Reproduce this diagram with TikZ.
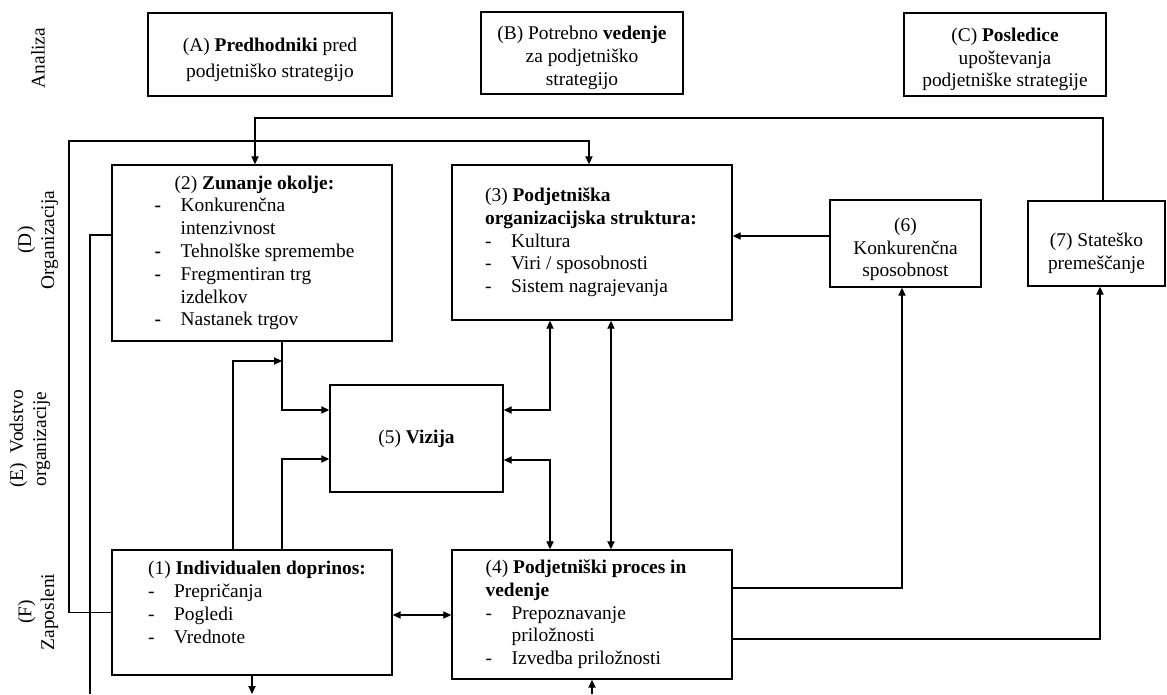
\documentclass[tikz,border=0pt]{standalone}
\usepackage{fontspec}
\setmainfont{Liberation Serif}
\usetikzlibrary{arrows.meta,positioning}

\newcommand{\topgap}[1]{\rule{0pt}{#1}}

\tikzset{
  box/.style={draw,line width=0.7pt,inner sep=0pt},
  link/.style={line width=0.6pt,-{Triangle[length=4pt,width=3.6pt]}},
  twoway/.style={line width=0.6pt,{Triangle[length=4pt,width=3.6pt]}-{Triangle[length=4pt,width=3.6pt]}},
  plain/.style={line width=0.6pt},
  side/.style={rotate=90,align=center,inner sep=0pt},
}

\begin{document}
\begin{tikzpicture}[x=0.5pt,y=-0.5pt,font=\fontsize{9.7}{11.4}\selectfont]
\useasboundingbox (0,0) rectangle (1167,695);

% row labels on the left
\node[side] (lblA) at (38,58) {Analiza};
\node[side] (lblD) at (38,240) {(D)\\Organizacija};
\node[side] (lblE) at (30,439) {(E)~ Vodstvo\\organizacije};
\node[side] (lblF) at (38,612) {(F)\\Zaposleni};

% header boxes
\node[box,minimum width=122pt,minimum height=41.5pt] (predh) at (270,54.5) {\begin{tabular}{@{}c@{}}\topgap{13pt}(A) \textbf{Predhodniki} pred\\[1.6pt] podjetniško strategijo\end{tabular}};
\node[box,minimum width=101pt,minimum height=41pt] (vedenje) at (582,53) {\begin{tabular}{@{}c@{}}\topgap{13pt}(B) Potrebno \textbf{vedenje}\\za podjetniško\\strategijo\end{tabular}};
\node[box,minimum width=101pt,minimum height=41.5pt] (posled) at (1005,54.5) {\begin{tabular}{@{}c@{}}\topgap{13pt}(C) \textbf{Posledice}\\upoštevanja\\podjetniške strategije\end{tabular}};

% main boxes
\node[box,minimum width=140pt,minimum height=88pt] (okolje) at (252,253) {\hspace{2.5pt}%
  \begin{tabular}{@{}p{13pt}@{}l@{}}
    \multicolumn{2}{c}{(2) \textbf{Zunanje okolje:}}\\
    \textbf{-} & Konkurenčna\\
               & intenzivnost\\
    \textbf{-} & Tehnolške spremembe\\
    \textbf{-} & Fregmentiran trg\\
               & izdelkov\\
    \textbf{-} & Nastanek trgov
  \end{tabular}};
\node[box,minimum width=140pt,minimum height=77.5pt] (struktura) at (592,242.5) {\hspace{5pt}%
  \begin{tabular}{@{}p{13pt}@{}l@{}}
    \multicolumn{2}{@{}l}{(3) \textbf{Podjetniška}}\\
    \multicolumn{2}{@{}l}{\textbf{organizacijska struktura:}}\\
    - & Kultura\\
    - & Viri / sposobnosti\\
    - & Sistem nagrajevanja
  \end{tabular}};
\node[box,minimum width=75.5pt,minimum height=43.5pt] (sposob) at (905.5,243.5) {\begin{tabular}{@{}c@{}}\topgap{14pt}(6)\\Konkurenčna\\sposobnost\end{tabular}};
\node[box,minimum width=68.5pt,minimum height=42.5pt] (premesc) at (1096.5,243.5) {\begin{tabular}{@{}c@{}}\topgap{18pt}(7) Stateško\\premeščanje\end{tabular}};
\node[box,minimum width=86.5pt,minimum height=53.5pt] (vizija) at (416.5,438.5) {(5) \textbf{Vizija}};
\node[box,minimum width=140pt,minimum height=62.5pt] (individ) at (252,612.5) {\hspace{11pt}%
  \begin{tabular}{@{}p{13pt}@{}l@{}}
    \multicolumn{2}{@{}l}{(1) \textbf{Individualen doprinos:}}\\
    - & Prepričanja\\
    - & Pogledi\\
    - & Vrednote\\[8pt]
  \end{tabular}};
\node[box,minimum width=140pt,minimum height=64.5pt] (proces) at (592,614.5) {%
  \begin{tabular}{@{}p{13pt}@{}l@{}}
    \multicolumn{2}{@{}l}{(4) \textbf{Podjetniški proces in}}\\
    \multicolumn{2}{@{}l}{\textbf{vedenje}}\\
    - & Prepoznavanje\\
      & priložnosti\\
    - & Izvedba priložnosti
  \end{tabular}};

% bend points
\coordinate (c7) at (1103,118);
\coordinate (c2) at (255,118);
\coordinate (d1) at (69,141);
\coordinate (d3) at (589,141);
\coordinate (e1) at (90,235);
\coordinate (bot) at (0,694);
\coordinate (f1) at (282,410);
\coordinate (g1) at (233,361);
\coordinate (g2) at (282,459);
\coordinate (h1) at (550,410);
\coordinate (h2) at (550,460);
\coordinate (h3) at (611,400);
\coordinate (k1) at (420,615);
\coordinate (m1) at (902,588);
\coordinate (m2) at (1100,639);
\coordinate (n1) at (780,236);

% feedback lines along the top and the left
\draw[link] (premesc.north -| c7) -- (c7) -- (c2) -- (okolje.north -| c2);
\draw[link] (individ.west) -| (d1) -- (d3) -- (struktura.north -| d3);
\draw[plain] (okolje.west |- e1) -- (e1) -- (e1 |- bot);
\draw[link] (individ.south) -- (individ.south |- bot);
\draw[link] (proces.south |- bot) -- (proces.south);

% into the vision box
\draw[link] (okolje.south -| f1) -- (f1) -- (vizija.west |- f1);
\draw[link] (individ.north -| g1) -- (g1) -- (f1 |- g1);
\draw[link] (individ.north -| g2) -- (g2) -- (vizija.west |- g2);
\draw[twoway] (struktura.south -| h1) -- (h1) -- (vizija.east |- h1);
\draw[twoway] (vizija.east |- h2) -- (h2) -- (proces.north -| h2);
\draw[twoway] (struktura.south -| h3) -- (proces.north -| h3);
\draw[twoway] (individ.east |- k1) -- (proces.west |- k1);

% outcomes
\draw[link] (proces.east |- m1) -- (m1) -- (sposob.south -| m1);
\draw[link] (proces.east |- m2) -- (m2) -- (premesc.south -| m2);
\draw[link] (sposob.west |- n1) -- (struktura.east |- n1);
\end{tikzpicture}
\end{document}
